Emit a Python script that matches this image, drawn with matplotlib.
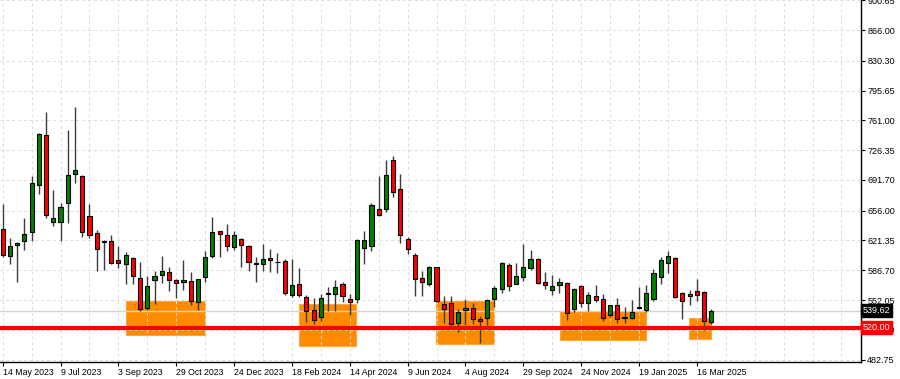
import numpy as np
import matplotlib
matplotlib.use("Agg")
import matplotlib.pyplot as plt
from matplotlib.patches import Rectangle

# ------------------------------------------
# Weekly OHLC (one candle per week, first = 14 May 2023)
# ------------------------------------------
opens = [634.2, 603.5, 616.0, 621.0, 630.7, 685.3, 743.5, 643.1, 643.1, 665.2,
         698.9, 696.2, 650.1, 630.3, 621.0, 621.0, 598.5, 593.9, 600.5, 577.2,
         543.1, 574.9, 581.5, 585.0, 574.9, 572.9, 574.1, 549.7, 578.4, 603.6,
         632.3, 628.0, 614.0, 622.6, 615.2, 594.7, 594.3, 600.5, 596.6, 597.4,
         557.4, 570.2, 555.9, 540.0, 532.6, 560.2, 558.6, 570.2, 552.8, 553.2,
         612.1, 614.8, 658.3, 657.9, 714.8, 681.1, 623.4, 604.8, 578.0, 571.0,
         590.0, 547.4, 549.0, 524.9, 540.8, 542.4, 530.3, 530.7, 553.2, 564.4,
         592.7, 570.6, 579.1, 588.8, 599.3, 573.3, 563.6, 569.1, 571.4, 541.2,
         568.3, 548.9, 556.7, 552.8, 534.6, 545.8, 531.8, 530.7, 544.3, 540.4,
         553.2, 578.4, 594.6, 600.5, 559.8, 558.6, 562.5, 561.7, 526.0]
highs = [663.6, 623.7, 620.0, 647.0, 696.2, 746.6, 770.2, 679.5, 664.4, 749.7,
         776.0, 697.4, 663.6, 633.4, 621.8, 627.6, 615.2, 607.4, 602.4, 596.6,
         579.9, 585.7, 603.2, 590.8, 576.1, 598.5, 585.0, 576.8, 609.4, 648.1,
         632.6, 640.0, 632.0, 623.7, 616.0, 601.6, 616.7, 611.3, 606.3, 599.3,
         599.3, 589.2, 557.8, 554.7, 558.6, 567.1, 575.3, 573.0, 558.6, 622.6,
         632.7, 664.8, 696.2, 714.8, 719.9, 698.2, 624.9, 606.3, 585.8, 591.6,
         590.5, 557.1, 557.1, 541.2, 552.8, 548.2, 533.4, 552.8, 568.3, 596.6,
         594.6, 595.4, 616.7, 610.1, 600.5, 585.0, 581.1, 578.0, 572.6, 565.6,
         569.4, 561.7, 569.4, 558.6, 546.2, 553.9, 544.3, 552.0, 566.7, 569.4,
         588.0, 602.4, 609.0, 602.4, 561.7, 563.6, 576.0, 562.5, 541.5]
lows = [601.6, 593.9, 572.5, 610.1, 621.0, 674.9, 647.0, 638.4, 621.0, 641.9,
        688.4, 624.9, 623.7, 585.7, 586.9, 593.9, 589.6, 570.6, 570.2, 539.2,
        540.4, 547.0, 572.2, 562.9, 554.0, 563.3, 546.6, 540.4, 573.3, 600.5,
        602.4, 608.6, 610.0, 590.8, 586.1, 573.0, 585.4, 584.6, 583.4, 557.4,
        555.9, 555.9, 526.4, 523.7, 527.6, 538.8, 539.2, 549.3, 534.2, 549.0,
        593.5, 609.4, 650.1, 654.8, 672.2, 618.0, 605.2, 557.1, 557.1, 568.0,
        550.1, 525.7, 523.5, 515.2, 523.0, 524.1, 501.6, 522.9, 544.3, 560.5,
        562.9, 570.2, 574.5, 586.9, 570.6, 564.8, 557.8, 560.0, 528.7, 538.4,
        544.0, 539.6, 550.1, 528.0, 532.5, 525.6, 525.6, 529.5, 541.2, 537.7,
        551.2, 570.6, 583.0, 554.0, 529.5, 546.2, 550.8, 517.1, 523.7]
closes = [604.3, 615.2, 618.7, 628.7, 687.7, 745.4, 650.5, 647.7, 660.1, 697.4,
          703.2, 631.5, 627.2, 611.7, 619.4, 595.4, 595.4, 604.0, 579.9, 541.6,
          567.9, 579.5, 585.7, 574.9, 572.2, 575.3, 551.2, 576.1, 602.4, 630.7,
          628.8, 615.2, 628.0, 615.6, 596.2, 593.5, 599.3, 598.9, 595.8, 560.5,
          569.1, 557.4, 539.2, 529.1, 554.0, 559.4, 566.7, 556.3, 550.1, 621.8,
          621.8, 662.5, 650.9, 697.4, 678.0, 627.2, 611.7, 576.1, 573.4, 590.0,
          551.3, 541.6, 524.1, 538.1, 542.8, 530.3, 528.0, 552.0, 566.3, 594.6,
          568.7, 579.9, 590.4, 599.7, 572.2, 569.1, 568.3, 572.6, 536.5, 564.8,
          548.1, 557.8, 552.4, 530.7, 545.8, 529.5, 530.7, 538.4, 543.1, 559.8,
          583.0, 598.5, 603.6, 555.1, 551.2, 556.7, 557.8, 528.0, 539.62]

date_labels = ["14 May 2023", "9 Jul 2023", "3 Sep 2023", "29 Oct 2023", "24 Dec 2023",
               "18 Feb 2024", "14 Apr 2024", "9 Jun 2024", "4 Aug 2024", "29 Sep 2024",
               "24 Nov 2024", "19 Jan 2025", "16 Mar 2025"]
price_ticks = [482.75, 517.40, 552.05, 586.70, 621.35, 656.00, 691.70,
               726.35, 761.00, 795.65, 830.30, 866.00, 900.65]

# support zones: (start week, end week, low, high)
zone_start = [17.0, 41.0, 59.9, 77.1, 94.9]
zone_end = [28.0, 48.9, 67.9, 88.9, 97.9]
zone_low = [511.7, 498.5, 500.5, 505.6, 506.7]
zone_high = [550.9, 547.4, 551.2, 539.3, 530.8]

support_level = 520.00
last_price = closes[-1]

# ------------------------------------------
# Figure
# ------------------------------------------
plt.rcParams['font.family'] = ['Liberation Sans', 'DejaVu Sans']
fig = plt.figure(figsize=(9.0, 3.79), dpi=100)
ax = fig.add_axes([0.0, 17 / 379, 861 / 900, 1 - 17 / 379])

x = np.arange(len(opens))
o = np.array(opens)
c = np.array(closes)
up = c >= o

# grid (dashed, light grey)
for v in range(0, 120, 4):
    ax.axvline(v, color='#dcdcdc', linestyle=(0, (3, 3)), linewidth=0.7, zorder=1.5)
for p in price_ticks:
    ax.axhline(p, color='#dcdcdc', linestyle=(0, (3, 3)), linewidth=0.7, zorder=1.5)

# zones
for x0, x1, lo, hi in zip(zone_start, zone_end, zone_low, zone_high):
    ax.add_patch(Rectangle((x0, lo), x1 - x0, hi - lo, facecolor='#ff8c00',
                           edgecolor='#ffa640', linewidth=0.8, zorder=1))

# bid line and support level
ax.axhline(last_price, color='#d4d4d4', linewidth=1, zorder=1.6)
ax.axhline(support_level, color='#ff0000', linewidth=3, zorder=4)

# candles
ax.vlines(x, lows, highs, color='#3a3a3a', linewidth=1, zorder=2)
body_lo = np.minimum(o, c)
body_h = np.maximum(np.abs(c - o), 0.6)
colors = np.where(up, '#008000', '#ff0000')
ax.bar(x, body_h, bottom=body_lo, width=0.58, color=colors,
       edgecolor='black', linewidth=0.8, zorder=3)

ax.set_xlim(-0.373, 118.7)
ax.set_ylim(480.0, 900.9)

# axes styling
for s in ['top', 'left']:
    ax.spines[s].set_visible(False)
ax.spines['right'].set_linewidth(1)
ax.spines['bottom'].set_linewidth(1)

ax.set_xticks(np.arange(0, 8 * len(date_labels), 8))
ax.set_xticklabels(date_labels, fontsize=6.3, ha='left')
ax.tick_params(axis='x', length=3, width=0.8, pad=1.5)

ax.yaxis.tick_right()
ax.set_yticks(price_ticks)
ax.set_yticklabels(['%.2f' % p for p in price_ticks], fontsize=6.5)
ax.tick_params(axis='y', length=3, width=0.8, pad=1.5)

# price tags on the right
ax.text(1.002, last_price, '%.2f' % last_price, transform=ax.get_yaxis_transform(),
        fontsize=6.5, color='white', va='center', ha='left', clip_on=False, zorder=6,
        bbox=dict(boxstyle='square,pad=0.2', facecolor='black', edgecolor='black'))
ax.text(1.002, support_level, '%.2f' % support_level, transform=ax.get_yaxis_transform(),
        fontsize=6.5, color='white', va='center', ha='left', clip_on=False, zorder=6,
        bbox=dict(boxstyle='square,pad=0.2', facecolor='#ff0000', edgecolor='#ff0000'))

fig.savefig("out.png", dpi=100)
plt.close(fig)
